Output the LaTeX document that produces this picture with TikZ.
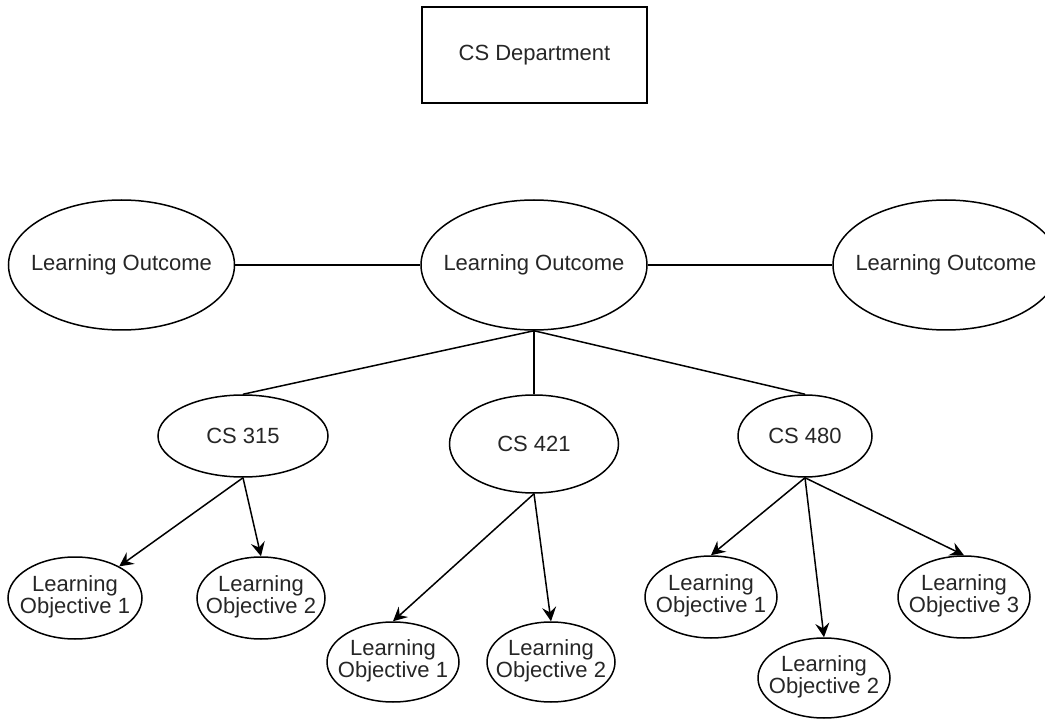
\documentclass[tikz,border=0pt]{standalone}
\usepackage{fontspec}
\setmainfont{Liberation Sans}
\usetikzlibrary{shapes.geometric,arrows.meta}
\newcommand\onel[1]{\makebox[0pt]{#1}}
\newcommand\twol[2]{\makebox[0pt]{\begin{tabular}{@{}c@{}}#1\\#2\end{tabular}}}
\begin{document}
\begin{tikzpicture}[x=1pt,y=-1pt,
  every node/.style={font=\fontsize{22}{22}\selectfont, text=black!85},
  deptbox/.style={draw, line width=1.5pt, rectangle, minimum width=225pt, minimum height=96pt, inner sep=0pt},
  outcome/.style={draw, line width=1.5pt, ellipse, minimum width=226pt, minimum height=130pt, inner sep=0pt},
  course/.style={draw, line width=1.5pt, ellipse, inner sep=0pt},
  objective/.style={draw, line width=1.5pt, ellipse, minimum width=132pt, minimum height=82pt, inner sep=0pt},
  link/.style={line width=1.5pt},
  arr/.style={line width=1.5pt, -{Stealth[length=14pt,width=14pt,inset=5pt]}}
]
\useasboundingbox (0,0) rectangle (1045,719);
\clip (0,0) rectangle (1045,719);

\node[deptbox] (dept) at (534.5,55) {\onel{CS Department}};

\node[outcome] (loL) at (121.5,265) {\onel{Learning Outcome}};
\node[outcome] (loM) at (534,265) {\onel{Learning Outcome}};
\node[outcome] (loR) at (946,265) {\onel{Learning Outcome}};

\node[course, minimum width=170pt, minimum height=82pt] (cs315) at (243,436) {\onel{CS 315}};
\node[course, minimum width=169pt, minimum height=98pt] (cs421) at (534,444) {\onel{CS 421}};
\node[course, minimum width=134pt, minimum height=82pt] (cs480) at (805,436) {\onel{CS 480}};

\node[objective, minimum width=134pt] (o315a) at (75,598) {\twol{Learning}{Objective 1}};
\node[objective, minimum width=128pt] (o315b) at (261,598) {\twol{Learning}{Objective 2}};
\node[objective, minimum height=80pt] (o421a) at (393,662) {\twol{Learning}{Objective 1}};
\node[objective, minimum width=128pt, minimum height=80pt] (o421b) at (551,662) {\twol{Learning}{Objective 2}};
\node[objective] (o480a) at (711,597) {\twol{Learning}{Objective 1}};
\node[objective, minimum height=80pt] (o480b) at (824,678) {\twol{Learning}{Objective 2}};
\node[objective] (o480c) at (964,597) {\twol{Learning}{Objective 3}};

\draw[link] (loL) -- (loM);
\draw[link] (loM) -- (loR);
\draw[link] (loM.south) -- (cs315.north);
\draw[link] (loM.south) -- (cs421.north);
\draw[link] (loM.south) -- (cs480.north);

\draw[arr] (cs315.south) -- (o315a);
\draw[arr] (cs315.south) -- (o315b.north);
\draw[arr] (cs421.south) -- (o421a.north);
\draw[arr] (cs421.south) -- (o421b.north);
\draw[arr] (cs480.south) -- (o480a.north);
\draw[arr] (cs480.south) -- (o480b.north);
\draw[arr] (cs480.south) -- (o480c.north);
\end{tikzpicture}
\end{document}
